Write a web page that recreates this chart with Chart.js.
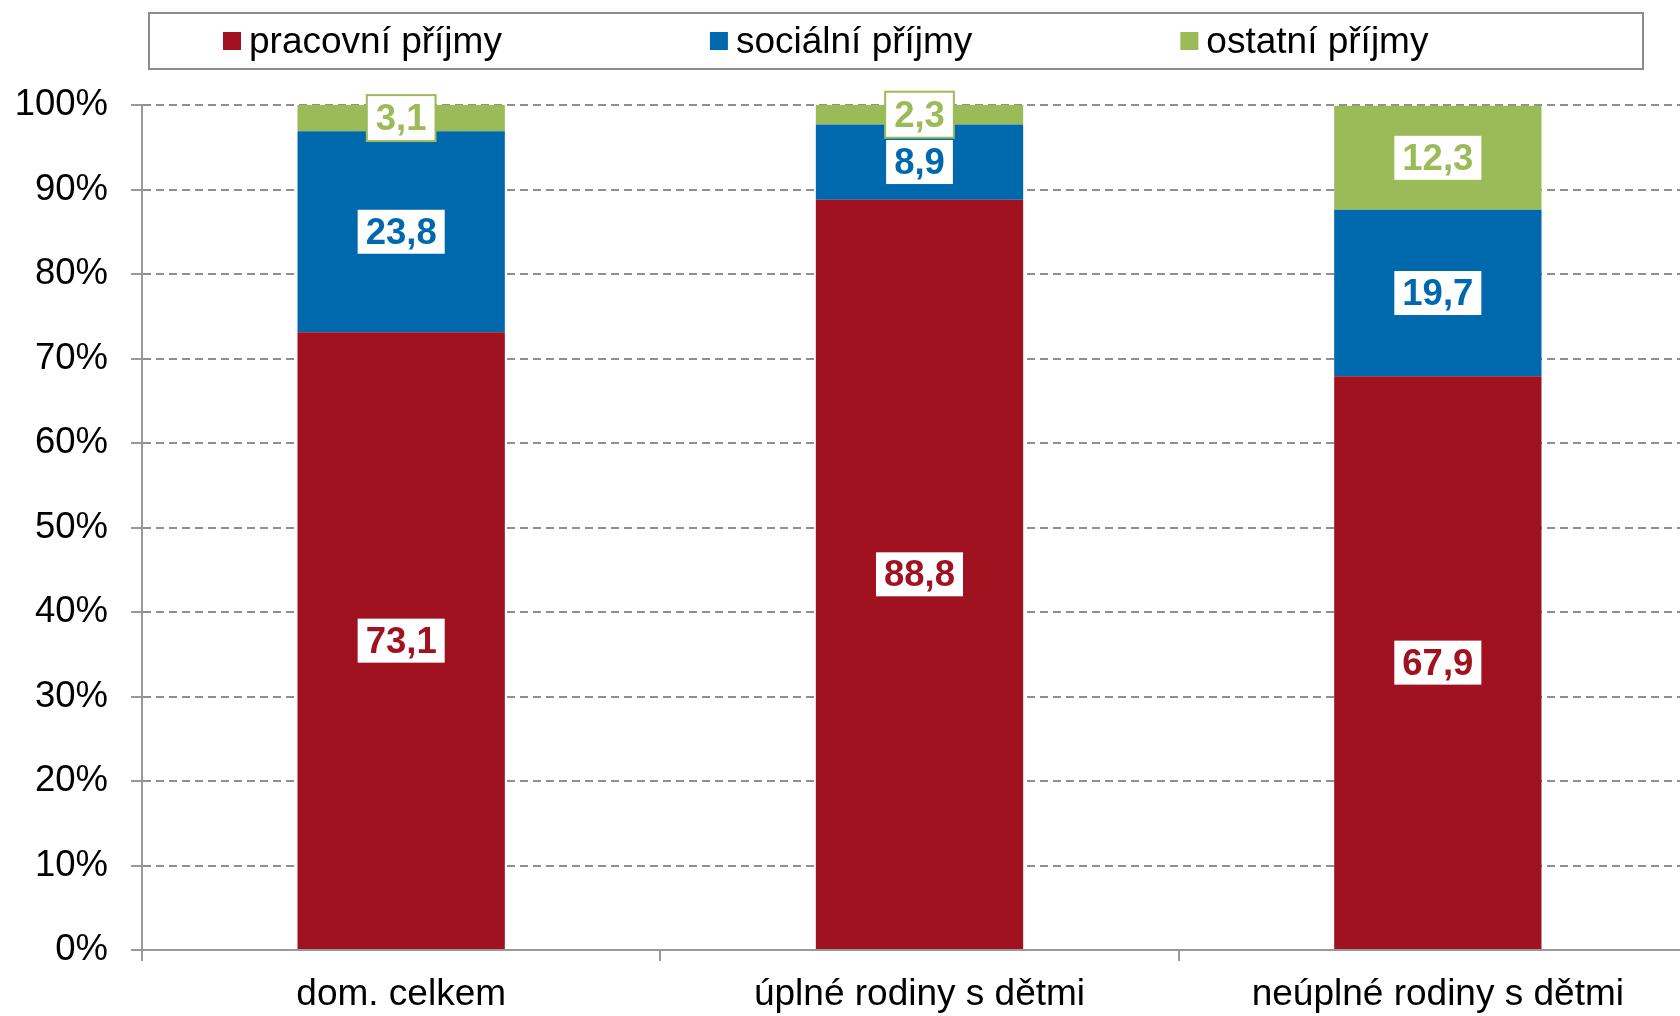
<!DOCTYPE html>
<html>
<head>
<meta charset="utf-8">
<script src="https://cdn.jsdelivr.net/npm/chart.js@4/dist/chart.umd.min.js"></script>
<style>
  html, body { margin: 0; padding: 0; background: #fff; overflow: hidden; width: 1680px; height: 1016px; }
  #wrap { width: 1700px; height: 1016px; }
</style>
</head>
<body>
<div id="wrap"><canvas id="chart" width="1700" height="1016"></canvas></div>
<script>
// categories and series (shares of household income, %)
const categories = ['dom. celkem', 'úplné rodiny s dětmi', 'neúplné rodiny s dětmi'];
const seriesNames = ['pracovní příjmy', 'sociální příjmy', 'ostatní příjmy'];
const pracovniPrijmy = [73.1, 88.8, 67.9];
const socialniPrijmy = [23.8, 8.9, 19.7];
const ostatniPrijmy = [3.1, 2.3, 12.3];
const yMin = 0;
const yMax = 100;
const yStep = 10;

const seriesColors = ['#a11221', '#0069ad', '#9bbb59'];
const FONT = '"Liberation Sans", Arial, sans-serif';
const gridGray = '#8f8f8f';

// white boxed value labels in the middle of each segment
const boxLabels = {
  id: 'boxLabels',
  afterDatasetsDraw(chart) {
    const ctx = chart.ctx;
    ctx.save();
    ctx.font = 'bold 36.5px ' + FONT;
    ctx.textAlign = 'center';
    ctx.textBaseline = 'middle';
    chart.data.datasets.forEach((ds, i) => {
      const meta = chart.getDatasetMeta(i);
      meta.data.forEach((bar, j) => {
        const p = bar.getProps(['x', 'y', 'base'], true);
        const cy = (p.y + p.base) / 2;
        const text = ds.data[j].toFixed(1).replace('.', ',');
        const w = ctx.measureText(text).width + 18;
        const h = 46;
        ctx.fillStyle = '#fff';
        ctx.fillRect(p.x - w / 2, cy - h / 2, w, h);
        ctx.strokeStyle = ds.backgroundColor;
        ctx.lineWidth = 2;
        ctx.strokeRect(p.x - w / 2, cy - h / 2, w, h);
        ctx.fillStyle = ds.backgroundColor;
        ctx.fillText(text, p.x, cy + 2);
      });
    });
    ctx.restore();
  }
};

// legend in a framed box above the plot
const boxLegend = {
  id: 'boxLegend',
  afterDraw(chart) {
    const ctx = chart.ctx;
    ctx.save();
    ctx.strokeStyle = '#8c8c8c';
    ctx.lineWidth = 2;
    ctx.strokeRect(149, 13, 1494, 56);
    ctx.font = '37px ' + FONT;
    ctx.textBaseline = 'alphabetic';
    ctx.textAlign = 'left';
    let x = 223;
    chart.data.datasets.forEach(ds => {
      ctx.fillStyle = ds.backgroundColor;
      ctx.fillRect(x, 32, 18, 18);
      ctx.fillStyle = '#000';
      ctx.fillText(ds.label, x + 26, 53);
      x += 26 + ctx.measureText(ds.label).width + 208;
    });
    ctx.restore();
  }
};

new Chart(document.getElementById('chart'), {
  type: 'bar',
  data: {
    labels: categories,
    datasets: [
      { label: seriesNames[0], data: pracovniPrijmy, backgroundColor: seriesColors[0] },
      { label: seriesNames[1], data: socialniPrijmy, backgroundColor: seriesColors[1] },
      { label: seriesNames[2], data: ostatniPrijmy, backgroundColor: seriesColors[2] }
    ]
  },
  options: {
    responsive: false,
    animation: false,
    devicePixelRatio: 1,
    barPercentage: 0.4,
    categoryPercentage: 1.0,
    layout: { padding: { top: 105, right: 3, left: 0, bottom: 0 } },
    plugins: {
      legend: { display: false },
      tooltip: { enabled: false }
    },
    scales: {
      x: {
        stacked: true,
        afterFit(scale) { scale.height = 66; },
        border: { display: true, color: '#999', width: 2 },
        grid: {
          offset: true,
          drawOnChartArea: false,
          drawTicks: true,
          tickLength: 11,
          color: '#999',
          lineWidth: 2
        },
        ticks: {
          color: '#000',
          padding: 12,
          font: { family: FONT, size: 37 },
          maxRotation: 0
        }
      },
      y: {
        stacked: true,
        min: yMin,
        max: yMax,
        afterFit(scale) { scale.width = 142; },
        // in Chart.js v4 border.dash dashes the grid lines, the axis line stays solid
        border: { display: true, color: '#999', width: 2, dash: [8, 5] },
        grid: {
          color: gridGray,
          lineWidth: 2,
          tickLength: 11,
          drawTicks: true,
          tickBorderDash: [],
          tickColor: '#999'
        },
        ticks: {
          stepSize: yStep,
          color: '#000',
          padding: 23,
          font: { family: FONT, size: 36.5 },
          callback: v => v + '%'
        }
      }
    }
  },
  plugins: [boxLabels, boxLegend]
});
</script>
</body>
</html>
